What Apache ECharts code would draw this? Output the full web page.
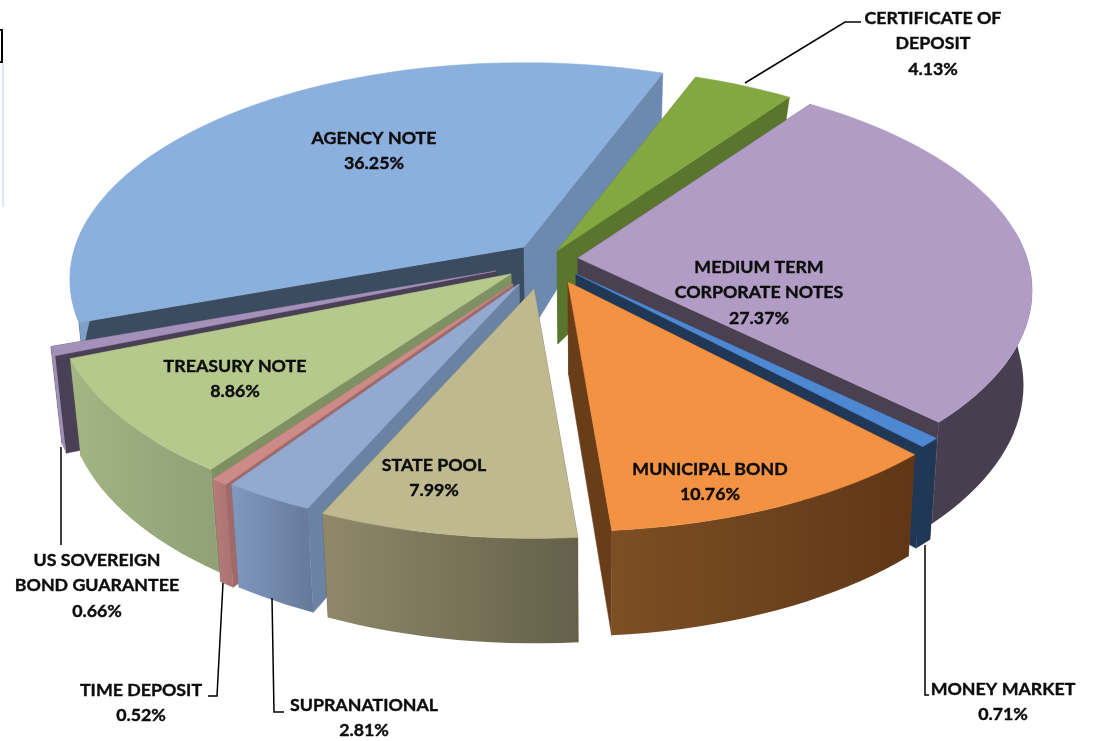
<!DOCTYPE html>
<html>
<head>
<meta charset="utf-8">
<title>Portfolio allocation</title>
<script src="https://cdn.jsdelivr.net/npm/echarts@6/dist/echarts.min.js"></script>
<style>
  html, body { margin: 0; padding: 0; background: #fff; }
  #chart { width: 1099px; height: 741px; }
</style>
</head>
<body>
<div id="chart"></div>
<script>
// slices run clockwise, starting at medium term notes
const categories = ['MEDIUM TERM\nCORPORATE NOTES', 'MONEY MARKET', 'MUNICIPAL BOND', 'STATE POOL', 'SUPRANATIONAL',
    'TIME DEPOSIT', 'TREASURY NOTE', 'US SOVEREIGN\nBOND GUARANTEE', 'AGENCY NOTE', 'CERTIFICATE OF\nDEPOSIT'];
const shares = [27.37, 0.71, 10.76, 7.99, 2.81, 0.52, 8.86, 0.66, 36.25, 4.13];

// styling, same order as categories
const topColors = ['#b09cc4', '#4f88d2', '#f39243', '#bfb98f', '#93a9d0', '#cd8b88', '#b6c98c', '#a491ba', '#8bb0dd', '#84a840'];
const startFaceColors = ['#4a4050', '#203856', '#6a3d19', '#66624c', '#6a83a5', '#a06a68', '#7f9162', '#4a4056', '#3b4c60', '#5f7a2f'];
const endFaceColors = ['#4a4050', '#203856', '#6a3d19', '#66624c', '#6a83a5', '#a06a68', '#7f9162', '#4a4056', '#6c89b0', '#5a752e'];
const rimColors = [['#473e50', '#473e50'], ['#203856', '#203856'], ['#7c4f24', '#603616'], ['#8f8969', '#64604a'],
    ['#8098bf', '#66799a'], ['#b67c7a', '#a97270'], ['#a2b583', '#90a175'], ['#a08fb5', '#a08fb5'], ['#7e9fc8', '#7e9fc8'], ['#5a752e', '#5a752e']];
// how far each slice is pulled out from the pie centre, px
const explode = [[56, 11], [54, 27], [46, 35], [12, 42], [-3, 37], [-9, 37], [-11, 27], [-26, 24], [2, 0], [35, 4]];
// back slices first so the front ones cover them
const drawOrder = [8, 9, 0, 1, 2, 7, 6, 5, 4, 3];

const CENTER = [522, 247];
const RX = 449, RY = 212, PERSP = 0.15;
const THICKNESS = 93;
const START_ANGLE = -54.5;
const VANISH_X = 600;

const total = shares.reduce((a, b) => a + b, 0);
const cumulative = shares.map((_, i) => shares.slice(0, i).reduce((a, b) => a + b, 0));
const toAngle = (value) => echarts.number.linearMap(value, [0, total], [START_ANGLE, START_ANGLE + 360]);

// disc coordinates to screen, the top face is seen in perspective
function topPoint(idx, u, v) {
    const w = 1 - PERSP * v;
    return [CENTER[0] + explode[idx][0] + RX * u / w, CENTER[1] + explode[idx][1] + RY * v / w];
}

function bottomPoint(idx, u, v) {
    const p = topPoint(idx, u, v);
    // thickness shrinks toward the back corners, grows a bit at the front
    const t = v >= 0 ? THICKNESS + 12 * v : THICKNESS + 140 * v * Math.abs(u);
    return [p[0] + (VANISH_X - p[0]) * 0.02, p[1] + t];
}

function renderSlice(params, api) {
    const idx = api.value(0);
    const from = toAngle(api.value(1));
    const to = toAngle(api.value(1) + api.value(2));
    const steps = Math.max(2, Math.ceil((to - from) / 2));
    const topRim = [], bandTop = [], bandBot = [];
    for (let s = 0; s <= steps; s++) {
        const a = (from + (to - from) * s / steps) * Math.PI / 180;
        const u = Math.cos(a), v = Math.sin(a);
        topRim.push(topPoint(idx, u, v));
        // the outer wall only shows on the near side of the pie
        if (v > -0.15) {
            bandTop.push(topPoint(idx, u, v));
            bandBot.push(bottomPoint(idx, u, v));
        }
    }
    const fromRad = from * Math.PI / 180, toRad = to * Math.PI / 180;
    const apexTop = topPoint(idx, 0, 0);
    const apexBot = bottomPoint(idx, 0, 0);
    const poly = (points, fill) => ({
        type: 'polygon',
        shape: { points: points },
        style: { fill: fill, stroke: typeof fill === 'string' ? fill : null, lineWidth: 0.5 }
    });
    const rimFill = {
        type: 'linear', x: 0, y: 0, x2: 1, y2: 0,
        colorStops: [{ offset: 0, color: rimColors[idx][0] }, { offset: 1, color: rimColors[idx][1] }]
    };
    const children = [
        poly([apexTop, topRim[0], bottomPoint(idx, Math.cos(fromRad), Math.sin(fromRad)), apexBot], startFaceColors[idx]),
        poly([apexTop, topRim[steps], bottomPoint(idx, Math.cos(toRad), Math.sin(toRad)), apexBot], endFaceColors[idx])
    ];
    if (bandTop.length > 1) {
        children.push(poly(bandTop.concat(bandBot.slice().reverse()), rimFill));
    }
    children.push(poly([apexTop].concat(topRim), topColors[idx]));
    return { type: 'group', children: children };
}

// label layout: centre of the first text line, one per category
const labelAt = [[759, 267], [1003, 689], [710, 469], [434, 465], [364, 705], [141, 690], [235, 366], [97, 560], [374, 138], [933, 18]];
const LINE_H = 25.5;

const labelGraphics = categories.map((name, i) => ({
    type: 'text',
    z: 10,
    x: labelAt[i][0],
    y: labelAt[i][1] - LINE_H / 2,
    style: {
        text: name + '\n' + shares[i].toFixed(2) + '%',
        fontFamily: 'Lato',
        fontWeight: 'bold',
        fontSize: 17.8,
        lineHeight: LINE_H,
        fill: '#0c0c0c',
        stroke: '#0c0c0c',
        lineWidth: 0.4,
        align: 'center',
        verticalAlign: 'top'
    }
}));

const leaders = [
    [[745, 83], [845, 22], [861, 22]],
    [[61, 447], [61, 545]],
    [[223, 583], [217, 696], [208, 696]],
    [[272, 598], [274, 712], [284, 712]],
    [[925, 545], [925, 695], [929, 695]]
];

const leaderGraphics = leaders.map((pts) => ({
    type: 'polyline',
    z: 9,
    shape: { points: pts },
    style: { stroke: '#000', lineWidth: 1.5, fill: null }
}));

const chart = echarts.init(document.getElementById('chart'), null, { renderer: 'canvas' });
chart.setOption({
    animation: false,
    backgroundColor: '#fff',
    graphic: {
        elements: [
            { type: 'rect', shape: { x: -6, y: 30, width: 8, height: 32 }, style: { fill: '#fff', stroke: '#000', lineWidth: 2 } },
            { type: 'rect', shape: { x: 2, y: 63, width: 2, height: 144 }, style: { fill: '#dfe8f2' } }
        ].concat(leaderGraphics, labelGraphics)
    },
    series: [{
        type: 'custom',
        coordinateSystem: 'none',
        silent: true,
        renderItem: renderSlice,
        data: drawOrder.map((i) => [i, cumulative[i], shares[i]])
    }]
});
</script>
</body>
</html>
